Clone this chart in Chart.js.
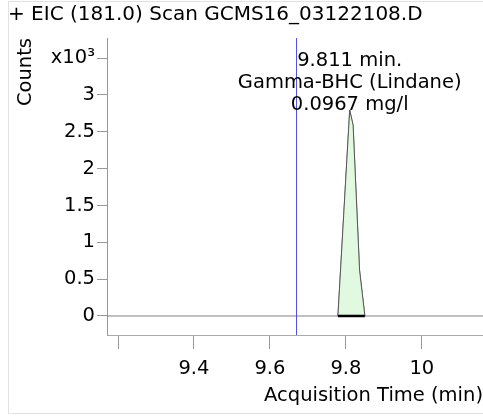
<!DOCTYPE html>
<html>
<head>
<meta charset="utf-8">
<script src="https://cdn.jsdelivr.net/npm/chart.js@4"></script>
<style>
  body { margin: 0; background: #fff; }
  #frame { position: absolute; left: 8px; top: 1px; width: 520px; height: 411px; border: 1px solid #e2e2e2; }
  #myChart { position: absolute; left: 0; top: 0; }
</style>
</head>
<body>
<div id="frame"></div>
<canvas id="myChart" width="483" height="416"></canvas>
<script>
// trace (time in min, counts)
var traceTime = [9.171, 9.779, 9.810, 9.819, 9.836, 9.850, 10.161];
var traceCounts = [0, 0, 2795, 2590, 620, 0, 0];

// integrated peak
var peakTime = [9.779, 9.810, 9.819, 9.836, 9.850];
var peakCounts = [0, 2795, 2590, 620, 0];

// blue marker line
var markerTime = 9.670;

var xTickValues = [9.2, 9.4, 9.6, 9.8, 10.0];
var xTickLabels = ['', '9.4', '9.6', '9.8', '10'];
var yTickValues = [0, 500, 1000, 1500, 2000, 2500, 3000, 3500];
var yTickLabels = ['0', '0.5', '1', '1.5', '2', '2.5', '3', 'x10³'];

var xMin = 9.171, xMax = 10.161;
var yMin = -258, yMax = 3772;

var annotationLines = ['9.811 min.', 'Gamma-BHC (Lindane)', '0.0967 mg/l'];
var apexTime = 9.810, apexCounts = 2795;

Chart.defaults.font.family = '"DejaVu Sans", Verdana, sans-serif';
Chart.defaults.font.size = 19.5;
Chart.defaults.color = '#000';

function pts(xs, ys) {
  return xs.map(function (x, i) { return { x: x, y: ys[i] }; });
}

// Texte de l'annotation au-dessus du pic
var peakLabel = {
  id: 'peakLabel',
  afterDatasetsDraw: function (chart) {
    var ctx = chart.ctx;
    var x = chart.scales.x.getPixelForValue(apexTime);
    var y = chart.scales.y.getPixelForValue(apexCounts);
    ctx.save();
    ctx.font = '19.5px "DejaVu Sans", Verdana, sans-serif';
    ctx.fillStyle = '#000';
    ctx.textAlign = 'center';
    ctx.textBaseline = 'alphabetic';
    for (var i = 0; i < annotationLines.length; i++) {
      ctx.fillText(annotationLines[i], x, y - (annotationLines.length - 1 - i) * 22);
    }
    ctx.restore();
  }
};

var ctx = document.getElementById('myChart').getContext('2d');
var myChart = new Chart(ctx, {
  type: 'scatter',
  data: {
    datasets: [{
      data: pts(traceTime, traceCounts),
      showLine: true,
      borderColor: '#808080',
      borderWidth: 1,
      pointRadius: 0,
      fill: false,
      order: 5
    }, {
      data: pts(peakTime, peakCounts),
      showLine: true,
      borderColor: '#555',
      borderWidth: 1,
      backgroundColor: 'rgb(224,249,224)',
      pointRadius: 0,
      fill: 'origin',
      order: 3
    }, {
      data: pts([peakTime[0], peakTime[peakTime.length - 1]], [0, 0]),
      showLine: true,
      borderColor: '#000',
      borderWidth: 2.5,
      pointRadius: 0,
      fill: false,
      order: 2
    }, {
      data: pts([markerTime, markerTime], [yMin, yMax]),
      showLine: true,
      borderColor: 'rgb(80,80,230)',
      borderWidth: 1,
      pointRadius: 0,
      fill: false,
      order: 1
    }]
  },
  options: {
    responsive: false,
    animation: false,
    layout: { padding: { left: 8, right: 0, top: 0, bottom: 0 } },
    plugins: {
      legend: { display: false },
      tooltip: { enabled: false },
      title: {
        display: true,
        text: '+ EIC (181.0) Scan GCMS16_03122108.D',
        align: 'start',
        color: '#000',
        font: { size: 20, weight: 'normal' },
        padding: { top: 3, bottom: 11 }
      }
    },
    scales: {
      x: {
        type: 'linear',
        min: xMin,
        max: xMax,
        afterFit: function (scale) { scale.height = 81; },
        afterBuildTicks: function (scale) {
          scale.ticks = xTickValues.map(function (v) { return { value: v }; });
        },
        ticks: {
          autoSkip: false,
          maxRotation: 0,
          padding: 8,
          callback: function (value, index) { return xTickLabels[index]; }
        },
        grid: { drawOnChartArea: false, drawTicks: true, tickLength: 14, color: '#999' },
        border: { color: '#aaa' },
        title: {
          display: true,
          text: 'Acquisition Time (min)',
          align: 'end',
          padding: { top: 0, bottom: 8 }
        }
      },
      y: {
        type: 'linear',
        min: yMin,
        max: yMax,
        afterFit: function (scale) { scale.width = 99; },
        afterBuildTicks: function (scale) {
          scale.ticks = yTickValues.map(function (v) { return { value: v }; });
        },
        ticks: {
          autoSkip: false,
          padding: 2,
          callback: function (value, index) { return yTickLabels[index]; }
        },
        grid: { drawOnChartArea: false, drawTicks: true, tickLength: 10, color: '#999' },
        border: { color: '#999' },
        title: {
          display: true,
          text: 'Counts',
          align: 'end',
          padding: { top: 6, bottom: 0 }
        }
      }
    }
  },
  plugins: [peakLabel]
});
</script>
</body>
</html>
